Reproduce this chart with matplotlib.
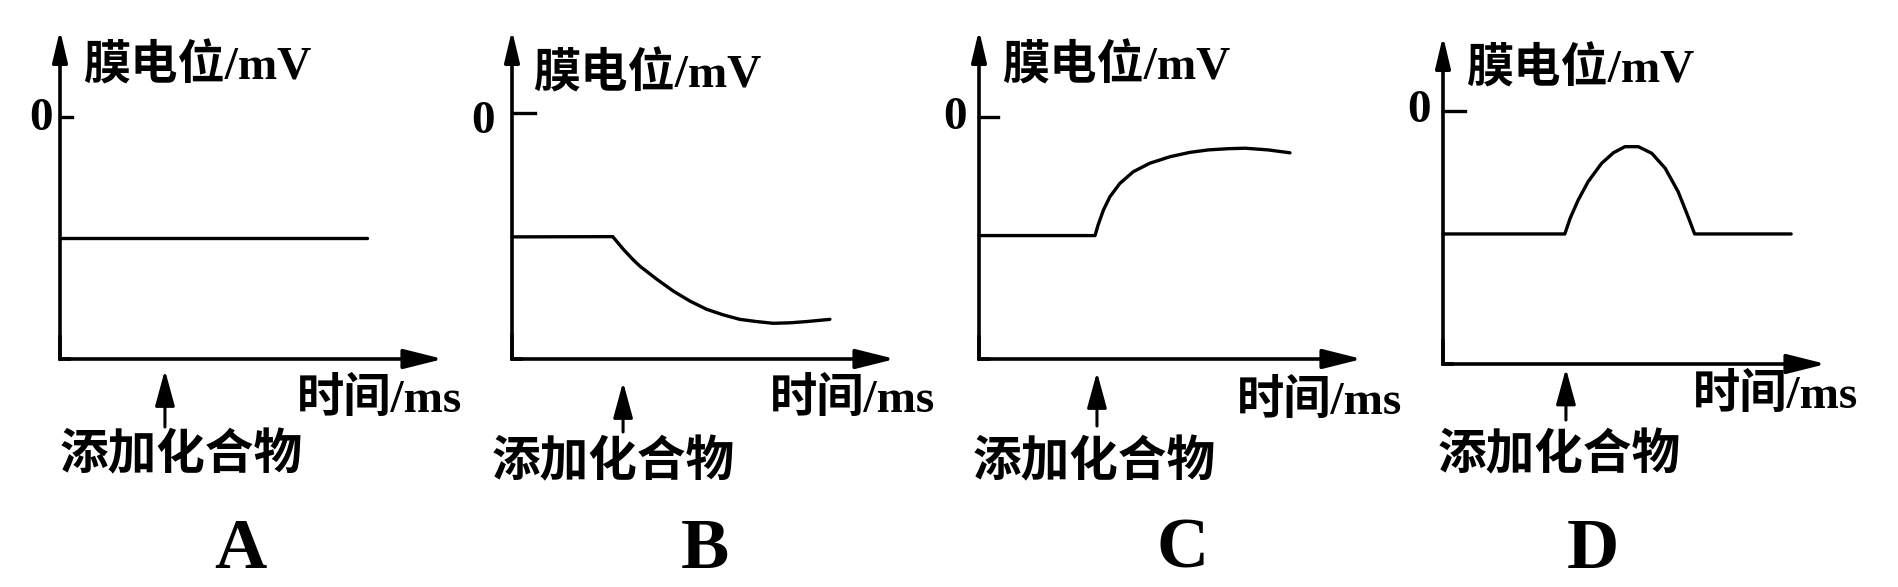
import matplotlib
matplotlib.use("Agg")
import matplotlib.pyplot as plt
from matplotlib.transforms import blended_transform_factory

# fonts: latin serif bold, chinese fallback
fam = ['Liberation Serif', 'Noto Sans CJK SC', 'DejaVu Sans']

# ---- data (time in arbitrary ms units, potential in mV) ----
panel_names = ['A', 'B', 'C', 'D']
y_label = '膜电位/mV'
x_label = '时间/ms'
add_label = '添加化合物'
add_time = [2.74, 2.90, 3.08, 3.21]

a_t = [0, 8.02]
a_v = [-50, -50]

b_t = [0, 2.63, 2.91, 3.17, 3.34, 3.78, 4.21, 4.65, 5.08, 5.52, 5.95, 6.39, 6.82, 7.26, 7.69, 8.30]
b_v = [-50.4, -50.3, -55.5, -59.8, -62.3, -67.6, -72.4, -76.5, -79.8, -82.1, -83.9, -84.8, -85.5, -85.3, -84.8, -83.9]

c_t = [0, 3.03, 3.11, 3.25, 3.42, 3.68, 4.03, 4.46, 4.99, 5.51, 5.99, 6.5, 6.95, 7.55, 8.12]
c_v = [-49, -49, -44.6, -38.4, -32.9, -27.4, -22.6, -19.1, -16.4, -14.6, -13.6, -13.1, -12.9, -13.6, -14.8]

d_t = [0, 3.18, 3.32, 3.53, 3.79, 4.14, 4.45, 4.75, 5.10, 5.45, 5.80, 6.14, 6.40, 6.57, 9.09]
d_v = [-48.6, -48.6, -42.4, -35.2, -27.9, -20.7, -16.5, -14.1, -14.1, -16.7, -22.6, -31.9, -41.8, -48.6, -48.6]

curves_t = [a_t, b_t, c_t, d_t]
curves_v = [a_v, b_v, c_v, d_v]

# ---- layout in pixels ----
W, H = 1898, 587
axis_x = [60, 512, 979, 1443]
tip_x = [443, 895, 1362, 1826]
axis_y = [359, 359, 359, 364]
top_y = [30, 30, 30, 36]
zero_y = [116.6, 112.8, 117, 111]
tick_len = [0.31, 0.6, 0.5, 0.57]

ylabel_left = [83, 533, 1002, 1466]
ylabel_cy = [67, 75, 67, 70]
zero_right = [53, 495, 967, 1431]
zero_cy = [119, 122, 118, 111]
xlabel_left = [297, 770, 1237, 1693]
xlabel_cy = [400, 400, 402, 396]
comp_left = [60, 492, 973, 1438]
comp_cy = [456, 463, 463, 456]
letter_cx = [240, 705, 1183, 1593]
letter_cy = 550
arr_tip = [370, 382, 372, 368.5]
arr_base = [427, 432, 426, 420]


def fx(px):
    return px / W


def fy(py):
    return 1 - py / H


fig = plt.figure(figsize=(W / 100, H / 100), dpi=100)

for i in range(4):
    scale = (axis_y[i] - zero_y[i]) / 100.0
    ytop = (axis_y[i] - top_y[i]) / scale - 100
    ax = fig.add_axes([fx(axis_x[i]), fy(axis_y[i]),
                       (tip_x[i] - axis_x[i]) / W, (axis_y[i] - top_y[i]) / H])
    ax.set_xlim(0, 10)
    ax.set_ylim(-100, ytop)
    ax.axis('off')

    # axes with arrows
    ax.annotate('', xy=(10, -100), xytext=(0, -100),
                arrowprops=dict(arrowstyle='-|>,head_length=24,head_width=6',
                                mutation_scale=1, lw=2.6, color='k',
                                shrinkA=0, shrinkB=0), annotation_clip=False)
    ax.annotate('', xy=(0, ytop), xytext=(0, -100),
                arrowprops=dict(arrowstyle='-|>,head_length=19,head_width=4.5',
                                mutation_scale=1, lw=2.6, color='k',
                                shrinkA=0, shrinkB=0), annotation_clip=False)
    ax.plot([0, 0, 0.3], [-90, -100, -100], color='k', lw=2.6,
            solid_joinstyle='miter', solid_capstyle='butt', clip_on=False)
    # zero tick
    ax.plot([0, tick_len[i]], [0, 0], color='k', lw=2.4, clip_on=False)

    # membrane potential curve
    ax.plot(curves_t[i], curves_v[i], color='k', lw=2.4,
            solid_joinstyle='round', solid_capstyle='round', clip_on=False)

    # compound arrow
    tr = blended_transform_factory(ax.transData, fig.transFigure)
    ax.annotate('', xy=(add_time[i], fy(arr_tip[i])), xycoords=tr,
                xytext=(add_time[i], fy(arr_base[i])), textcoords=tr,
                arrowprops=dict(arrowstyle='-|>,head_length=22,head_width=6',
                                mutation_scale=1, lw=2.2, color='k',
                                shrinkA=0, shrinkB=0), annotation_clip=False)

    # texts
    fig.text(fx(ylabel_left[i]), fy(ylabel_cy[i]), y_label, family=fam,
             fontweight='bold', fontsize=34, ha='left', va='center')
    fig.text(fx(zero_right[i]), fy(zero_cy[i]), '0', family=fam,
             fontweight='bold', fontsize=34, ha='right', va='center')
    fig.text(fx(xlabel_left[i]), fy(xlabel_cy[i]), x_label, family=fam,
             fontweight='bold', fontsize=34, ha='left', va='center')
    fig.text(fx(comp_left[i]), fy(comp_cy[i]), add_label, family=fam,
             fontweight='bold', fontsize=35, ha='left', va='center')
    fig.text(fx(letter_cx[i]), fy(letter_cy), panel_names[i], family=fam,
             fontweight='bold', fontsize=52, ha='center', va='center')

fig.savefig('out.png', dpi=100, facecolor='white')
